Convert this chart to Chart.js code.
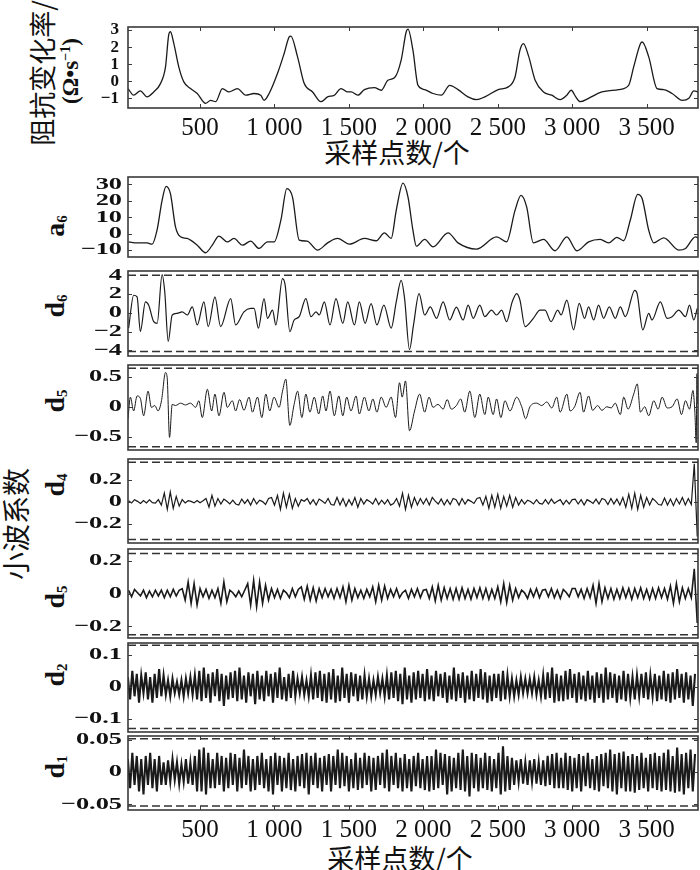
<!DOCTYPE html>
<html>
<head>
<meta charset="utf-8">
<script src="https://cdn.jsdelivr.net/npm/chart.js@4.4.1/dist/chart.umd.min.js"></script>
<style>
  body { margin: 0; background: #fff; }
  #wrap { position: relative; width: 700px; height: 870px; overflow: hidden; }
  #wrap canvas { position: absolute; left: 0; }
  .txt { position: absolute; white-space: nowrap; color: #111; transform: translate(-50%, -50%); }
  .rot { transform: translate(-50%, -50%) rotate(-90deg); }
  .cjk { font-family: "Noto Sans CJK SC"; font-size: 27px; }
  .unit { font-family: "Liberation Serif"; font-weight: bold; font-size: 23px; }
  .unit sup { font-size: 14px; }
  .lab { font-family: "Liberation Serif"; font-weight: bold; font-size: 28px; }
  .lab sub { font-size: 15px; vertical-align: -3px; }
</style>
</head>
<body>
<div id="wrap">
  <div class="txt rot cjk" style="left:41px; top:73px;">阻抗变化率/</div>
  <div class="txt rot unit" style="left:71px; top:71px;">(Ω•s<sup>−1</sup>)</div>
  <div class="txt cjk" style="left:397px; top:151px;">采样点数/个</div>
  <div class="txt cjk" style="left:400px; top:857px;">采样点数/个</div>
  <div class="txt rot cjk" style="left:15px; top:524px; font-size:28px;">小波系数</div>
  <div class="txt rot lab" style="left:55px; top:226px;">a<sub>6</sub></div>
  <div class="txt rot lab" style="left:55px; top:306px;">d<sub>6</sub></div>
  <div class="txt rot lab" style="left:55px; top:401px;">d<sub>5</sub></div>
  <div class="txt rot lab" style="left:55px; top:485px;">d<sub>4</sub></div>
  <div class="txt rot lab" style="left:55px; top:597px;">d<sub>5</sub></div>
  <div class="txt rot lab" style="left:55px; top:675px;">d<sub>2</sub></div>
  <div class="txt rot lab" style="left:55px; top:767px;">d<sub>1</sub></div>
</div>
<script>
// tick labels
const xTicks = [500, 1000, 1500, 2000, 2500, 3000, 3500];
const impTicks = [3, 2, 1, 0, -1];
const a6Ticks = [30, 20, 10, 0, -10];
const d6Ticks = [4, 2, 0, -2, -4];
const d5Ticks = [0.5, 0, -0.5];
const d4Ticks = [0.2, 0, -0.2];
const d3Ticks = [0.2, 0, -0.2];
const d2Ticks = [0.1, 0, -0.1];
const d1Ticks = [0.05, 0, -0.05];

// threshold lines (dashed)
const d6Limits = [4.0, -4.12];
const d5Limits = [0.64, -0.665];
const d4Limits = [0.364, -0.347];
const d3Limits = [0.243, -0.251];
const d2Limits = [0.13, -0.131];
const d1Limits = [0.0516, -0.0527];

// impedance rate signal [sample, value]
const impedance = [[16,-0.43],[54,-0.82],[99,-0.57],[144,-0.92],[189,-0.63],[234,-0.14],[268,0.84],[290,2.75],[301,2.9],[324,2.2],[357,0.84],[391,-0.04],[436,-0.43],[481,-0.72],[537,-1.3],[571,-1.12],[605,-1.2],[650,-0.43],[694,-0.63],[751,-0.43],[807,-0.82],[863,-0.72],[908,-0.82],[930,-1.12],[964,-0.72],[1020,0.45],[1065,1.63],[1099,2.6],[1110,2.65],[1155,1.43],[1200,-0.14],[1256,-0.63],[1312,-1.2],[1357,-0.92],[1402,-0.82],[1447,-0.43],[1492,-0.63],[1515,-0.63],[1560,-0.82],[1604,-0.49],[1671,-0.37],[1717,-0.53],[1762,0.06],[1806,0.2],[1851,1.24],[1885,2.9],[1897,3.05],[1930,1.82],[1964,-0.24],[2009,-0.49],[2065,-0.72],[2121,-0.82],[2177,-0.24],[2233,-0.49],[2300,-0.92],[2357,-1.08],[2413,-0.92],[2503,-0.49],[2571,-0.33],[2616,0.25],[2649,1.82],[2672,2.2],[2706,1.5],[2751,0.06],[2807,-0.63],[2863,-0.82],[2919,-1.08],[2964,-0.82],[2993,-0.53],[3024,-0.92],[3053,-1.2],[3110,-1.0],[3199,-0.63],[3312,-0.49],[3379,-0.24],[3413,0.84],[3458,2.2],[3470,2.3],[3514,1.43],[3570,-0.43],[3615,-0.49],[3671,-0.72],[3739,-1.12],[3784,-1.0],[3817,-0.57],[3850,-0.63]];

// approximation a6 [sample, value]
const approxA6 = [[20,-5],[77,-5.6],[144,-5.6],[178,-6.4],[211,2.1],[245,20.3],[272,28.8],[301,24.4],[335,4.2],[369,-1.9],[413,-2.9],[481,-7],[537,-11.6],[582,-7],[627,-1.5],[683,-5],[728,-2.9],[785,-7],[840,-4.5],[896,-9],[953,-5],[998,-5],[1043,8.2],[1083,27.4],[1121,22.3],[1166,-3.9],[1218,-4.5],[1290,-10],[1357,-5.6],[1425,-2.9],[1503,-6.4],[1604,-2.9],[1683,-4.3],[1739,0.5],[1784,-2.9],[1818,14.2],[1863,30.8],[1897,22.3],[1930,2.1],[1953,-7.6],[2009,-3.5],[2065,-8],[2166,0.5],[2233,-5.6],[2357,-9.4],[2492,-1.9],[2559,-5],[2616,14.2],[2656,23.3],[2694,16.3],[2739,-5.6],[2807,-3.5],[2885,-10.4],[2964,-1.9],[3031,-10.4],[3110,-5],[3188,-3.5],[3244,-5.6],[3300,-2.3],[3346,-4.3],[3390,8.2],[3440,23.9],[3470,21.3],[3514,2.1],[3548,-5.6],[3615,-2.5],[3716,-10],[3761,-9],[3828,-1.9],[3850,-2.9]];

// detail d6 [sample, value]
const detail6 = [[20,-1.64],[54,1.86],[77,1.68],[99,-2.0],[133,1.16],[155,0.81],[189,-0.95],[212,-1.12],[245,4.05],[263,2.2],[286,-3.05],[313,-0.24],[346,-0.07],[380,0.1],[414,-0.24],[448,0.63],[481,-1.3],[526,1.16],[555,-1.47],[600,1.68],[638,-1.47],[706,1.51],[739,-1.3],[795,0.1],[840,0.46],[863,0.46],[892,-1.64],[930,1.51],[953,-0.59],[987,0.28],[1009,-1.3],[1054,3.62],[1072,2.92],[1103,-2.0],[1132,-0.77],[1166,-0.42],[1211,1.51],[1245,-0.42],[1279,0.1],[1301,-0.24],[1335,1.16],[1373,-1.3],[1413,1.51],[1459,-1.12],[1492,1.16],[1537,-1.3],[1570,1.16],[1609,-1.12],[1649,0.98],[1688,-1.3],[1735,0.81],[1784,-1.64],[1818,1.16],[1851,3.44],[1874,1.51],[1907,-3.93],[1934,-1.3],[1971,2.04],[2009,-0.24],[2047,0.63],[2088,-0.59],[2133,1.16],[2177,-0.77],[2222,0.6],[2267,-0.77],[2301,0.81],[2335,-0.59],[2379,0.81],[2413,-0.42],[2458,0.28],[2492,-0.24],[2526,0.28],[2559,-0.95],[2597,1.16],[2627,2.04],[2649,1.35],[2683,-1.47],[2739,-0.59],[2784,0.28],[2817,0.28],[2858,-0.95],[2903,0.28],[2925,-0.24],[2964,1.34],[3009,-1.82],[3047,0.99],[3083,-0.59],[3110,0.63],[3144,-0.77],[3177,0.81],[3211,-0.59],[3249,0.63],[3289,-0.59],[3323,0.63],[3357,-0.42],[3420,2.39],[3436,2.04],[3474,-1.82],[3514,-0.07],[3536,-0.77],[3592,1.16],[3638,-0.59],[3671,-0.42],[3716,0.28],[3761,-0.42],[3788,0.81],[3817,-0.77],[3840,0.46]];

// detail d5 [sample, value]
const detail5 = [[16,-0.2],[32,0.16],[54,-0.07],[77,0.18],[99,0.14],[121,-0.15],[151,0.26],[173,-0.01],[196,0.02],[218,-0.07],[241,0.1],[268,0.57],[279,0.49],[295,-0.51],[313,0.04],[335,0.02],[369,0.06],[402,0.03],[436,0.06],[470,-0.01],[492,0.1],[515,-0.18],[549,0.29],[578,-0.07],[600,0.21],[627,-0.15],[661,0.24],[683,-0.01],[717,0.1],[739,-0.07],[766,0.12],[795,-0.06],[829,0.16],[852,-0.09],[886,0.16],[915,-0.18],[942,0.21],[968,-0.07],[997,0.16],[1031,-0.01],[1054,0.26],[1076,0.46],[1103,-0.31],[1132,0.04],[1155,0.26],[1184,-0.18],[1211,0.21],[1238,-0.09],[1267,0.16],[1297,-0.12],[1324,0.18],[1346,-0.07],[1373,0.26],[1402,-0.15],[1432,0.18],[1459,-0.15],[1485,0.16],[1514,-0.07],[1548,0.18],[1570,-0.12],[1604,0.16],[1634,-0.07],[1661,0.13],[1688,-0.09],[1717,0.16],[1750,-0.01],[1784,0.16],[1813,-0.18],[1840,0.4],[1858,0.16],[1880,0.43],[1907,-0.4],[1941,-0.07],[1975,0.21],[2009,-0.09],[2038,0.16],[2065,-0.01],[2099,0.04],[2133,-0.04],[2160,0.12],[2188,-0.04],[2222,0.02],[2251,0.13],[2278,-0.09],[2312,0.26],[2346,-0.18],[2379,0.21],[2413,-0.13],[2436,0.16],[2469,-0.13],[2492,0.13],[2521,-0.18],[2548,0.1],[2582,-0.07],[2627,0.16],[2661,0],[2687,-0.2],[2716,0],[2761,0.06],[2795,0.02],[2829,0.08],[2863,-0.02],[2896,0.16],[2919,-0.09],[2964,0.21],[2986,-0.07],[3016,0],[3053,0.24],[3076,-0.09],[3110,0.18],[3137,-0.06],[3171,0.02],[3199,-0.06],[3233,0],[3262,-0.02],[3289,0.06],[3323,-0.13],[3346,0.16],[3375,-0.04],[3413,0.21],[3437,0.38],[3458,-0.09],[3487,0],[3514,-0.15],[3548,0.1],[3577,-0.04],[3604,0.16],[3638,-0.02],[3671,0],[3705,0.13],[3734,-0.13],[3761,0.1],[3788,-0.04],[3811,0.27],[3824,-0.09],[3833,-0.6],[3838,0.55],[3843,0.05]];

// detail d4, one value every 20 samples from sample 20
const detail4Start = 20, detail4Step = 20;
const detail4 = [.01,-.01,.02,.004,-.015,.012,-.01,.018,-.008,-.012,
  .02,-.03,.08,-.07,.09,-.06,.05,-.04,.02,-.01,
  .01,.004,-.01,.012,-.008,.01,.03,-.05,.06,-.04,
  .03,-.02,.025,.005,-.02,.015,-.02,-.03,.025,-.015,
  .02,-.03,.03,-.02,.015,.002,-.025,.03,.04,-.03,
  .06,-.07,.08,-.05,.07,-.06,.03,-.04,.02,.005,
  .03,-.02,.02,-.03,.025,.008,-.015,.03,-.025,-.03,
  .04,-.03,.03,-.04,.02,-.03,.04,-.05,.03,-.02,
  .02,.004,-.02,.03,-.025,.015,-.02,.02,-.03,-.015,
  .03,-.04,.08,-.07,.06,-.05,.04,-.03,.03,-.02,
  .03,-.03,.04,.006,-.02,.025,-.03,.02,-.025,.03,
  .02,-.03,.03,-.02,.02,.004,-.015,.03,.04,-.03,
  .05,-.06,.06,-.05,.07,-.06,.05,-.04,.06,-.05,
  .04,-.03,.02,-.02,.015,.003,-.02,.02,-.015,-.02,
  .02,-.02,.025,-.015,.005,.02,-.025,.015,-.02,.02,
  .025,-.02,.02,-.03,.02,.004,-.015,.025,-.02,.03,
  .02,-.025,.03,-.02,.025,-.03,.04,-.05,.07,-.06,
  .08,-.07,.06,-.05,.04,-.03,.03,.006,-.025,-.03,
  .035,-.03,.025,-.035,.03,-.02,.04,-.03,.03,-.025,
  .35,-.32];

// detail d3 (labelled d5 in the figure), every 20 samples from sample 20
const detail3Start = 20, detail3Step = 20;
const detail3 = [.02,-.02,.025,.005,-.015,.02,-.025,.015,-.02,.02,
  -.015,.02,-.025,.02,-.02,.025,-.015,.02,.03,-.04,
  .07,-.06,.06,-.07,.03,-.02,.025,-.03,.02,-.025,
  .03,-.06,.07,-.05,.02,.005,-.02,.015,-.02,.02,
  .06,-.07,.08,-.08,.07,-.06,.05,-.04,.03,-.025,
  .025,-.03,.02,.004,-.025,.03,-.02,.025,.04,-.035,
  .045,-.04,.035,-.045,.03,-.025,.03,-.02,.025,-.03,
  .03,-.025,.04,-.05,.05,-.04,.03,-.025,.02,-.03,
  .025,-.02,.04,-.05,.05,-.04,.045,-.03,.025,-.02,
  .03,-.025,.005,.02,-.03,.025,-.02,.03,-.025,.02,
  .025,-.03,.04,-.045,.05,-.04,.035,-.03,.03,-.035,
  .03,-.035,.035,-.03,.025,-.035,.03,-.025,.035,-.03,
  .03,-.035,.025,-.03,.04,-.05,.06,-.055,.05,-.04,
  .03,-.025,.02,.004,-.03,.025,-.02,.03,-.025,.02,
  .025,-.02,.03,-.025,.02,-.03,.025,.006,-.02,.03,
  .03,-.02,.025,-.03,.03,-.025,.05,-.06,.06,-.05,
  .035,-.03,.03,-.035,.025,-.03,.035,-.025,.03,-.035,
  .03,-.025,.035,-.03,.025,-.035,.03,-.03,.035,-.025,
  .03,-.035,.045,-.06,.06,-.05,.035,-.03,.03,-.025,
  .15,-.18];

// detail d2, every 15 samples from sample 15
const detail2Start = 15, detail2Step = 15;
const detail2 = [.03,-.04,.05,-.03,.04,-.05,.035,-.02,.045,-.04,.03,-.05,.04,-.035,.055,
  -.03,.035,-.025,.02,-.03,.025,-.02,.015,-.025,.02,-.03,.025,-.02,.03,-.025,
  .035,-.04,.05,-.045,.06,-.035,.04,-.05,.045,-.03,.055,-.045,.04,-.06,.035,
  -.04,.045,-.035,.05,-.045,.06,-.04,.035,-.05,.045,-.03,.04,-.055,.05,-.04,
  .035,-.045,.05,-.03,.04,-.05,.045,-.035,.06,-.04,.03,-.045,.04,-.035,.05,
  -.03,.025,-.02,.03,-.025,.02,-.03,.035,-.04,.045,-.035,.05,-.045,.04,-.05,
  .045,-.04,.055,-.05,.035,-.045,.06,-.035,.04,-.05,.045,-.03,.04,-.045,.035,
  -.04,.035,-.03,.025,-.03,.02,-.025,.03,-.02,.025,-.03,.035,-.04,.045,-.035,
  .05,-.045,.04,-.055,.06,-.04,.035,-.05,.045,-.04,.05,-.035,.04,-.045,.055,
  -.04,.035,-.045,.05,-.03,.04,-.035,.045,-.05,.035,-.04,.06,-.045,.04,-.035,
  .045,-.05,.035,-.04,.05,-.045,.04,-.035,.055,-.04,.045,-.05,.035,-.045,.04,
  -.035,.04,-.045,.05,-.04,.035,-.03,.025,-.03,.02,-.025,.03,-.02,.025,-.02,
  .025,-.02,.03,-.025,.02,-.03,.035,-.04,.045,-.035,.06,-.05,.04,-.045,.035,
  -.045,.05,-.04,.055,-.035,.04,-.05,.045,-.04,.035,-.045,.05,-.04,.035,-.05,
  .045,-.035,.04,-.05,.06,-.04,.045,-.035,.04,-.05,.035,-.04,.05,-.045,.04,
  -.035,.03,-.04,.035,-.03,.04,-.035,.045,-.04,.035,-.03,.04,-.045,.035,-.04,
  .05,-.045,.04,-.05,.045,-.04,.055,-.035,.04,-.05,.045,-.04,.035,-.06,.04];

// detail d1, every 15 samples from sample 15
const detail1Start = 15, detail1Step = 15;
const detail1 = [.02,-.025,.03,-.02,.025,-.03,.02,-.035,.025,-.02,.03,-.025,.02,-.03,.025,
  -.02,.015,-.02,.018,-.015,.02,-.012,.015,-.018,.012,-.015,.02,-.018,.015,-.02,
  .025,-.03,.035,-.03,.038,-.035,.03,-.025,.02,-.025,.03,-.02,.025,-.03,.022,
  -.025,.03,-.02,.028,-.03,.022,-.025,.035,-.02,.025,-.03,.02,-.028,.025,-.02,
  .03,-.025,.02,-.03,.025,-.035,.03,-.02,.025,-.03,.022,-.025,.03,-.028,.02,
  -.03,.025,-.022,.028,-.025,.03,-.035,.025,-.02,.03,-.025,.022,-.03,.025,-.02,
  .028,-.03,.025,-.02,.035,-.025,.03,-.022,.025,-.03,.02,-.025,.03,-.028,.022,
  -.025,.03,-.02,.025,-.03,.022,-.028,.025,-.02,.03,-.025,.035,-.03,.025,-.02,
  .03,-.025,.022,-.03,.028,-.025,.02,-.03,.025,-.022,.03,-.025,.02,-.028,.025,
  -.03,.025,-.028,.035,-.025,.03,-.02,.028,-.035,.025,-.03,.022,-.025,.03,-.028,
  .035,-.03,.025,-.038,.03,-.025,.028,-.03,.022,-.025,.03,-.028,.025,-.03,.02,
  -.025,.03,-.035,.04,-.03,.025,-.028,.022,-.02,.018,-.015,.02,-.018,.015,-.02,
  .018,-.015,.02,-.018,.015,-.02,.018,-.022,.025,-.02,.028,-.025,.03,-.025,.022,
  -.025,.03,-.028,.025,-.03,.022,-.025,.028,-.03,.025,-.022,.03,-.025,.02,-.028,
  .025,-.03,.028,-.022,.03,-.025,.035,-.03,.028,-.035,.03,-.025,.032,-.03,.025,
  -.03,.028,-.032,.025,-.028,.03,-.025,.022,-.03,.028,-.025,.03,-.028,.025,-.03,
  .03,-.028,.035,-.03,.025,-.032,.038,-.03,.028,-.035,.03,-.025,.035,-.03,.028];

const xMin = 16, xMax = 3845;
const PAD = 16;
const INK = '#1a1a1a';

function fromPairs(arr) { return arr.map(p => ({x: p[0], y: p[1]})); }
function fromSteps(vals, start, step) { return vals.map((v, i) => ({x: start + i * step, y: v})); }

function fmtX(v) {
    if (v < 1000) return String(v);
    return Math.floor(v / 1000) + ' ' + String(v % 1000).padStart(3, '0');
}
function fmtY(v) {
    if (v === 0) return '0';
    return v < 0 ? '\u2212' + String(-v) : String(v);
}

const panels = [
    {pts: fromPairs(impedance), ticks: impTicks, limits: [], yMin: -1.57, yMax: 3.18, top: 27, bottom: 108, axis: true, stretch: 1, smooth: true, lw: 1.3},
    {pts: fromPairs(approxA6), ticks: a6Ticks, limits: [], yMin: -14.2, yMax: 34.5, top: 177, bottom: 257, stretch: 1.55, smooth: true, lw: 1.3},
    {pts: fromPairs(detail6), ticks: d6Ticks, limits: d6Limits, yMin: -4.6, yMax: 4.44, top: 271, bottom: 356, stretch: 1.55, smooth: true, lw: 1.2},
    {pts: fromPairs(detail5), ticks: d5Ticks, limits: d5Limits, yMin: -0.72, yMax: 0.695, top: 365, bottom: 450, stretch: 1.55, smooth: true, lw: 1.0},
    {pts: fromSteps(detail4, detail4Start, detail4Step), ticks: d4Ticks, limits: d4Limits, yMin: -0.379, yMax: 0.394, top: 459, bottom: 543, stretch: 1.55, lw: 1.2},
    {pts: fromSteps(detail3, detail3Start, detail3Step), ticks: d3Ticks, limits: d3Limits, yMin: -0.271, yMax: 0.271, top: 549, bottom: 638, stretch: 1.55, lw: 1.6},
    {pts: fromSteps(detail2, detail2Start, detail2Step), ticks: d2Ticks, limits: d2Limits, yMin: -0.142, yMax: 0.137, top: 643, bottom: 732, stretch: 1.55, lw: 2.1},
    {pts: fromSteps(detail1, detail1Start, detail1Step), ticks: d1Ticks, limits: d1Limits, yMin: -0.059, yMax: 0.056, top: 736, bottom: 810, axis: true, stretch: 1.55, lw: 2.1}
];

// frame, inner tick marks and stretched y labels
function framePlugin(p) {
    return {
        id: 'frame',
        afterDatasetsDraw(chart) {
            const ctx = chart.ctx, a = chart.chartArea;
            const x = chart.scales.x, y = chart.scales.y;
            ctx.save();
            ctx.strokeStyle = '#3a3a3a';
            ctx.lineWidth = 1.6;
            ctx.strokeRect(a.left, a.top, a.right - a.left, a.bottom - a.top);
            ctx.lineWidth = 1;
            ctx.beginPath();
            p.ticks.forEach(v => {
                const py = Math.round(y.getPixelForValue(v)) + 0.5;
                ctx.moveTo(a.left, py); ctx.lineTo(a.left + 4, py);
                ctx.moveTo(a.right - 4, py); ctx.lineTo(a.right, py);
            });
            if (p.axis) {
                xTicks.forEach(v => {
                    const px = Math.round(x.getPixelForValue(v)) + 0.5;
                    ctx.moveTo(px, a.top); ctx.lineTo(px, a.top + 4);
                    ctx.moveTo(px, a.bottom - 4); ctx.lineTo(px, a.bottom);
                });
            }
            ctx.stroke();

            ctx.fillStyle = '#111';
            ctx.font = 'bold 17px "Liberation Serif"';
            ctx.textAlign = 'right';
            ctx.textBaseline = 'middle';
            p.ticks.forEach(v => {
                const py = y.getPixelForValue(v);
                ctx.save();
                ctx.translate(p.stretch === 1 ? 119 : 122, py);
                ctx.scale(p.stretch, 1);
                ctx.fillText(fmtY(v), 0, 0);
                ctx.restore();
            });
            ctx.restore();
        }
    };
}

const wrap = document.getElementById('wrap');

panels.forEach(p => {
    const boxH = p.bottom - p.top;
    const axisH = 40;
    const h = PAD + boxH + (p.axis ? axisH : PAD);
    const canvas = document.createElement('canvas');
    canvas.width = 700;
    canvas.height = h;
    canvas.style.top = (p.top - PAD) + 'px';
    wrap.appendChild(canvas);

    const datasets = p.limits.map(t => ({
        data: [{x: xMin, y: t}, {x: xMax, y: t}],
        borderColor: '#333',
        borderWidth: 1.5,
        borderDash: [8, 4],
        pointRadius: 0
    }));
    datasets.push({
        data: p.pts,
        borderColor: INK,
        borderWidth: p.lw,
        pointRadius: 0,
        cubicInterpolationMode: p.smooth ? 'monotone' : 'default',
        tension: 0
    });

    new Chart(canvas.getContext('2d'), {
        type: 'line',
        data: { datasets: datasets },
        options: {
            responsive: false,
            animation: false,
            events: [],
            layout: { padding: { left: 128, right: 2, top: PAD, bottom: p.axis ? 0 : PAD } },
            plugins: { legend: { display: false }, tooltip: { enabled: false } },
            scales: {
                x: {
                    type: 'linear',
                    min: xMin,
                    max: xMax,
                    display: !!p.axis,
                    grid: { display: false, drawTicks: false },
                    border: { display: false },
                    afterBuildTicks: s => { s.ticks = xTicks.map(v => ({ value: v })); },
                    afterFit: s => { s.height = p.axis ? axisH : 0; },
                    ticks: {
                        autoSkip: false,
                        maxRotation: 0,
                        padding: 5,
                        color: '#111',
                        font: { family: 'Liberation Serif', size: 25 },
                        callback: v => fmtX(v)
                    }
                },
                y: {
                    type: 'linear',
                    min: p.yMin,
                    max: p.yMax,
                    display: false
                }
            }
        },
        plugins: [framePlugin(p)]
    });
});
</script>
</body>
</html>
